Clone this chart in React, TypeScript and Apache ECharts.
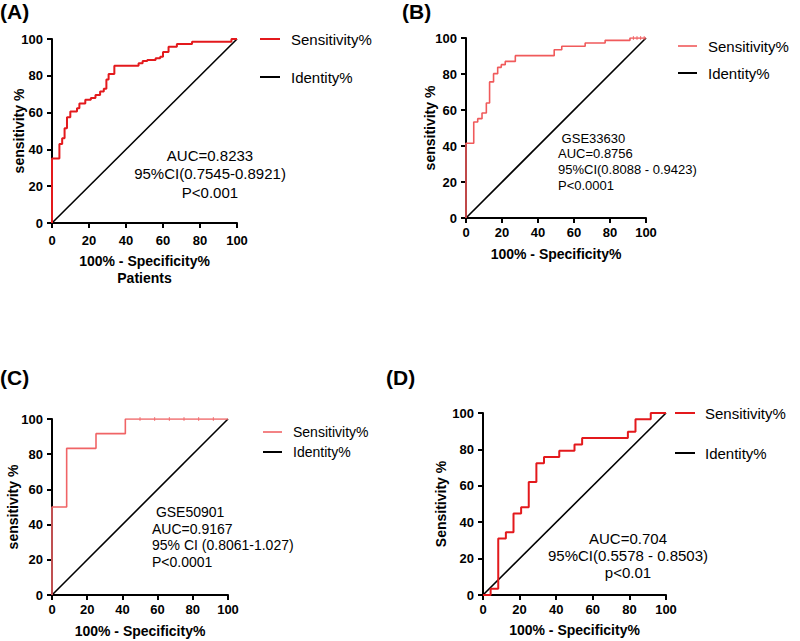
import React, { useEffect, useRef } from "react";
import * as echarts from "echarts";

// ---- data ----
const ticks = [0, 20, 40, 60, 80, 100];
const identity = [[0, 0], [100, 100]];

const rocAX = [0, 0, 4, 5.5, 6.8, 8.1, 9.9, 13.5, 14.8, 18, 21, 23.5, 26, 28, 29.4, 30.6, 33.7, 46.8, 49, 51.5, 56, 58.5, 60, 63, 67.5, 75.7, 97, 100];
const rocAY = [0, 35, 43, 46, 51.5, 57.5, 60.6, 62.4, 65, 67, 68, 69.6, 71.4, 73, 78, 81, 85.5, 86.8, 88, 88.6, 89.5, 90.4, 93, 95.8, 97.3, 98.5, 100, 100];

const rocBX = [0, 0, 4.3, 6.5, 8.9, 11.3, 13.1, 15.3, 17.6, 19.6, 21.8, 27.4, 49, 53.2, 66.2, 77.3, 91.1, 100];
const rocBY = [0, 41.5, 53.3, 55.2, 58.3, 63.9, 75.6, 80.2, 83.7, 85.2, 87, 90.2, 93.5, 95.4, 97.2, 98.7, 100, 100];
const marksBX = [93, 95, 97, 99];

const rocCX = [0, 0, 8.33, 25, 41.67, 100];
const rocCY = [0, 50, 83.33, 91.67, 100, 100];
const marksCX = [50, 58.33, 66.67, 75, 83.33, 91.67];

const rocDX = [0, 4.17, 8.33, 12.5, 16.67, 20.83, 25, 29.17, 33.33, 41.67, 50, 54.17, 79.17, 83.33, 91.67, 100];
const rocDY = [0, 3.45, 31.03, 34.48, 44.83, 48.28, 62.07, 72.41, 75.86, 79.31, 82.76, 86.21, 89.66, 96.55, 100, 100];

const panelLabels = ["(A)", "(B)", "(C)", "(D)"];
const xTitles = ["100% - Specificity%\nPatients", "100% - Specificity%", "100% - Specificity%", "100% - Specificity%"];
const yTitles = ["sensitivity %", "sensitivity %", "sensitivity %", "Sensitivity %"];
const legendNames = ["Sensitivity%", "Identity%"];
const notesA = ["AUC=0.8233", "95%CI(0.7545-0.8921)", "P<0.001"];
const notesB = [" GSE33630", "AUC=0.8756", "95%CI(0.8088 - 0.9423)", "P<0.0001"];
const notesC = [" GSE50901", "AUC=0.9167", "95% CI (0.8061-1.027)", "P<0.0001"];
const notesD = ["AUC=0.704", "95%CI(0.5578 - 0.8503)", "p<0.01"];

const FONT = "'Liberation Sans', Arial, Helvetica, sans-serif";

const zip = (xs: number[], ys: number[]) => xs.map((x, i) => [x, ys[i]]);

export default function App() {
  const ref = useRef<HTMLDivElement>(null);
  useEffect(() => {
    if (!ref.current) return;
    const chart = echarts.init(ref.current, null, { renderer: "svg" });

    const grids = [
      { left: 52, top: 39, width: 185, height: 184 },
      { left: 466, top: 38, width: 180, height: 180 },
      { left: 52, top: 419, width: 176, height: 176 },
      { left: 483, top: 413, width: 183, height: 182 },
    ];
    const xLabelMargin = [11, 8, 8, 8];
    const xNameGap = [29, 27, 27, 26];
    const yNameGap = [26, 29, 32, 35];
    const colors = ["#e3191c", "#f05a5b", "#f06466", "#e3191c"];
    const widths = [2, 1.6, 1.6, 2];

    const axisCommon = {
      type: "value",
      min: 0,
      max: 100,
      interval: 20,
      splitLine: { show: false },
      nameMoveOverlap: false,
      axisLine: { show: true, lineStyle: { color: "#000", width: 2 } },
      axisTick: { show: true, length: 5, lineStyle: { color: "#000", width: 2 } },
    };

    const xAxis = grids.map((_, i) => ({
      ...axisCommon,
      gridIndex: i,
      name: xTitles[i],
      nameLocation: "middle",
      nameGap: xNameGap[i],
      nameTextStyle: { fontFamily: FONT, fontWeight: "bold", fontSize: 14, color: "#000", lineHeight: 17 },
      axisLabel: { fontFamily: FONT, fontWeight: "bold", fontSize: 13, color: "#000", margin: xLabelMargin[i] },
    }));
    const yAxis = grids.map((_, i) => ({
      ...axisCommon,
      gridIndex: i,
      name: yTitles[i],
      nameLocation: "middle",
      nameGap: yNameGap[i],
      nameTextStyle: { fontFamily: FONT, fontWeight: "bold", fontSize: 14, color: "#000" },
      axisLabel: { fontFamily: FONT, fontWeight: "bold", fontSize: 13, color: "#000", margin: 9 },
    }));

    const rocData = [zip(rocAX, rocAY), zip(rocBX, rocBY), zip(rocCX, rocCY), zip(rocDX, rocDY)];
    const series: any[] = [];
    rocData.forEach((d, i) => {
      series.push({
        type: "line",
        name: legendNames[1],
        xAxisIndex: i,
        yAxisIndex: i,
        data: identity,
        showSymbol: false,
        lineStyle: { color: "#000", width: 1.6 },
        z: 2,
      });
      series.push({
        type: "line",
        name: legendNames[0],
        xAxisIndex: i,
        yAxisIndex: i,
        data: d,
        step: "end",
        showSymbol: false,
        lineStyle: { color: colors[i], width: widths[i] },
        z: 3,
      });
    });
    series.push({
      type: "scatter",
      xAxisIndex: 1,
      yAxisIndex: 1,
      data: marksBX.map((x) => [x, 100]),
      symbol: "rect",
      symbolSize: [1, 4],
      itemStyle: { color: colors[1] },
    });
    series.push({
      type: "scatter",
      xAxisIndex: 2,
      yAxisIndex: 2,
      data: marksCX.map((x) => [x, 100]),
      symbol: "rect",
      symbolSize: [1, 4],
      itemStyle: { color: colors[2] },
    });

    const txt = (text: string, x: number, y: number, size: number, align = "left", weight = "normal") => ({
      type: "text",
      x,
      y,
      silent: true,
      style: {
        text,
        x: 0,
        y: 0,
        fill: "#000",
        fontFamily: FONT,
        fontSize: size,
        fontWeight: weight,
        align,
        textAlign: align,
        verticalAlign: "middle",
        textVerticalAlign: "middle",
      },
    });
    const line = (x1: number, x2: number, y: number, color: string, w: number) => ({
      type: "line",
      silent: true,
      shape: { x1, y1: y, x2, y2: y },
      style: { stroke: color, lineWidth: w },
    });

    const graphic: any[] = [];
    // panel labels
    graphic.push(txt(panelLabels[0], 0, 11, 21, "left", "bold"));
    graphic.push(txt(panelLabels[1], 402, 11, 21, "left", "bold"));
    graphic.push(txt(panelLabels[2], 0, 377, 21, "left", "bold"));
    graphic.push(txt(panelLabels[3], 386, 377, 21, "left", "bold"));
    // legends
    const legends = [
      { x1: 260, x2: 280, tx: 291, y1: 39, y2: 77, size: 15 },
      { x1: 678, x2: 697, tx: 708, y1: 46, y2: 73, size: 15 },
      { x1: 263, x2: 282, tx: 293, y1: 432, y2: 452, size: 14 },
      { x1: 675, x2: 695, tx: 705, y1: 413, y2: 453, size: 15 },
    ];
    legends.forEach((l, i) => {
      graphic.push(line(l.x1, l.x2, l.y1, colors[i], widths[i]));
      graphic.push(txt(legendNames[0], l.tx, l.y1, l.size));
      graphic.push(line(l.x1, l.x2, l.y2, "#000", 2));
      graphic.push(txt(legendNames[1], l.tx, l.y2, l.size));
    });
    // annotations
    notesA.forEach((t, k) => graphic.push(txt(t, 210, 155 + k * 18.5, 15, "center")));
    notesB.forEach((t, k) => graphic.push(txt(t, 558, 138 + k * 15.7, 13, "left")));
    notesC.forEach((t, k) => graphic.push(txt(t, 152, 512 + k * 16.5, 14, "left")));
    notesD.forEach((t, k) => graphic.push(txt(t, 628, 538 + k * 17, 15, "center")));

    chart.setOption({
      animation: false,
      backgroundColor: "#fff",
      grid: grids,
      xAxis,
      yAxis,
      series,
      graphic,
    });
    return () => chart.dispose();
  }, []);
  return (
    <div
      ref={ref}
      style={{ position: "fixed", left: 0, top: 0, width: 800, height: 641, background: "#fff" }}
    />
  );
}
